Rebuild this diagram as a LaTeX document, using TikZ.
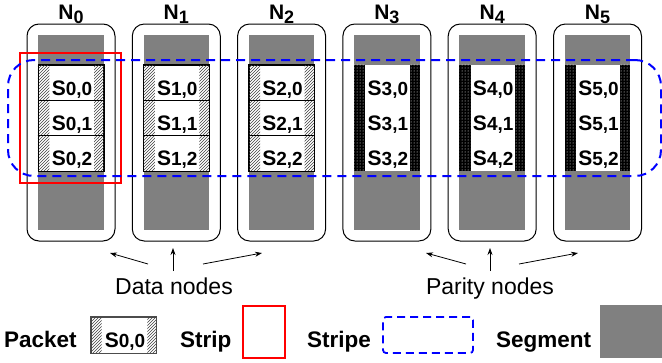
\documentclass[tikz,border=0pt]{standalone}
\usepackage{fontspec}
\setmainfont{Liberation Sans}
\usetikzlibrary{patterns,arrows.meta}
\definecolor{seggray}{RGB}{128,128,128}
\newcommand\pkt[2]{{\fontsize{21}{22}\selectfont\bfseries S}{\fontsize{19}{20}\selectfont\bfseries #1,#2}}
\begin{document}
\begin{tikzpicture}[x=1pt,y=-1pt,
  nodebox/.style={draw=black, line width=1pt, rounded corners=12pt, inner sep=0pt},
  seg/.style={fill=seggray, draw=none, inner sep=0pt},
  pktbox/.style={draw=black, line width=0.6pt, fill=white, inner sep=0pt},
  hatch/.style={pattern=north east lines, pattern color=black!75},
  paritystrip/.style={fill=black, postaction={pattern=dots, pattern color=white}},
  strip/.style={draw=red, line width=2pt, inner sep=0pt},
  stripe/.style={draw=blue, line width=2pt, dash pattern=on 9pt off 6pt, rounded corners=26pt, inner sep=0pt},
  lbl/.style={font=\fontsize{22.5}{24}\selectfont\bfseries, anchor=base west, inner sep=0pt},
  txt/.style={font=\fontsize{23}{25}\selectfont, anchor=base, inner sep=0pt},
  arr/.style={-{Stealth[length=7pt,width=5pt]}, line width=0.8pt}
]
\useasboundingbox (0,0) rectangle (662,362);

\foreach \i in {0,...,5} {
  \pgfmathsetmacro\cx{71+105.3*\i}
  \node[nodebox, minimum width=88pt, minimum height=217pt] (box\i) at (\cx,132.5) {};
  \node[seg, minimum width=65.5pt, minimum height=195pt] (seg\i) at (\cx,132.5) {};
  \node[anchor=base, inner sep=0pt] (n\i) at (\cx,19)
    {\fontsize{21}{22}\selectfont\bfseries N\raisebox{-4pt}{\fontsize{18}{19}\selectfont\bfseries\i}};
}

% data packets
\foreach \i in {0,1,2} {
  \pgfmathsetmacro\cx{71+105.3*\i}
  \foreach \j in {0,1,2} {
    \node[pktbox, minimum width=65.5pt, minimum height=35.33pt] (p\i\j) at (\cx,82.67+35.33*\j) {};
    \fill[hatch] (p\i\j.north west) rectangle ++(11.5,35.33);
    \fill[hatch] (p\i\j.north east) rectangle ++(-10,35.33);
    \draw[line width=0.6pt] (p\i\j.north west) rectangle (p\i\j.south east);
    \node[anchor=base, inner sep=0pt] (t\i\j) at (\cx+1,95+35*\j) {\pkt{\i}{\j}};
  }
}

% parity packets
\foreach \i in {3,4,5} {
  \pgfmathsetmacro\cx{71+105.3*\i}
  \node[fill=white, inner sep=0pt, minimum width=65.5pt, minimum height=106pt] (p\i) at (\cx,118) {};
  \fill[paritystrip] (p\i.north west) rectangle ++(11.5,106);
  \fill[paritystrip] (p\i.north east) rectangle ++(-10,106);
  \foreach \j in {0,1,2} {
    \node[anchor=base, inner sep=0pt] (t\i\j) at (\cx+1,95+35*\j) {\pkt{\i}{\j}};
  }
}

% strip and stripe
\node[strip, minimum width=101pt, minimum height=130pt] (strip) at (70.5,118) {};
\node[stripe, minimum width=653pt, minimum height=116pt] (stripe) at (334.5,118) {};

% labels with arrows
\node[txt] (dn) at (174,294) {Data nodes};
\node[txt] (pn) at (490,294) {Parity nodes};
\coordinate (d1) at (110,253);  \coordinate (d2) at (173,248); \coordinate (d3) at (262,253);
\coordinate (ds1) at (148,264); \coordinate (ds2) at (173,271); \coordinate (ds3) at (203,264);
\coordinate (q1) at (426,253);  \coordinate (q2) at (490,248); \coordinate (q3) at (578,253);
\coordinate (qs1) at (466,264); \coordinate (qs2) at (490,271); \coordinate (qs3) at (519,264);
\draw[arr] (ds1) -- (d1);
\draw[arr] (ds2) -- (d2);
\draw[arr] (ds3) -- (d3);
\draw[arr] (qs1) -- (q1);
\draw[arr] (qs2) -- (q2);
\draw[arr] (qs3) -- (q3);

% legend
\node[lbl] (lpacket) at (4,347) {Packet};
\node[pktbox, draw=black!70, minimum width=65pt, minimum height=36pt] (lp) at (123.5,335) {};
\fill[hatch] (lp.north west) rectangle ++(11,36);
\fill[hatch] (lp.north east) rectangle ++(-9,36);
\draw[draw=black!70, line width=0.6pt] (lp.north west) rectangle (lp.south east);
\node[anchor=base, inner sep=0pt] (lpt) at (125,347) {\pkt{0}{0}};

\node[lbl] (lstrip) at (180,347) {Strip};
\node[strip, minimum width=42pt, minimum height=52pt] (ls) at (264,332) {};

\node[lbl] (lstripe) at (307,347) {Stripe};
\node[draw=blue, line width=1.8pt, dash pattern=on 8pt off 5pt, rounded corners=3pt, inner sep=0pt,
      minimum width=90pt, minimum height=36pt] (lst) at (428,335) {};

\node[lbl] (lsegment) at (496,347) {Segment};
\node[seg, minimum width=62pt, minimum height=53pt] (lseg) at (631,331.5) {};
\end{tikzpicture}
\end{document}
